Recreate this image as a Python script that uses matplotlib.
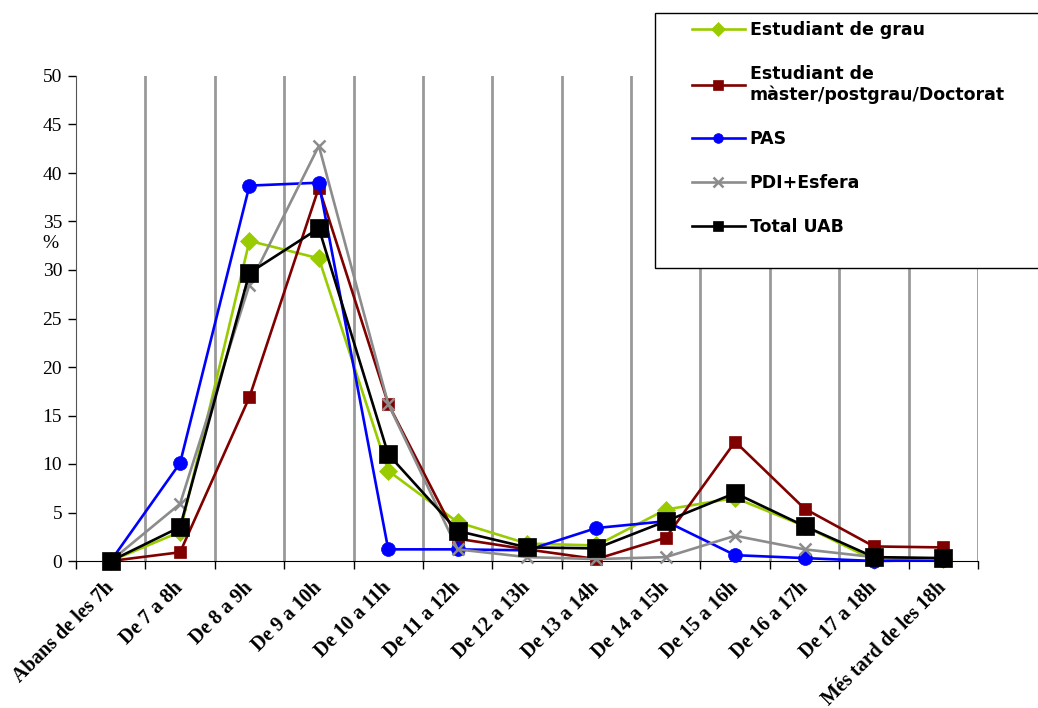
import matplotlib
matplotlib.use("Agg")
from matplotlib import pyplot as plt
from matplotlib.patches import Rectangle
import numpy as np

categories = ["Abans de les 7h", "De 7 a 8h", "De 8 a 9h", "De 9 a 10h", "De 10 a 11h",
              "De 11 a 12h", "De 12 a 13h", "De 13 a 14h", "De 14 a 15h", "De 15 a 16h",
              "De 16 a 17h", "De 17 a 18h", "Més tard de les 18h"]

grau = [0.0, 3.0, 33.0, 31.2, 9.3, 4.0, 1.8, 1.6, 5.3, 6.5, 3.6, 0.1, 0.2]
master = [0.0, 0.9, 16.9, 38.5, 16.2, 2.3, 1.2, 0.2, 2.4, 12.3, 5.4, 1.5, 1.4]
pas = [0.0, 10.1, 38.7, 39.0, 1.2, 1.2, 1.1, 3.4, 4.1, 0.6, 0.3, 0.0, 0.1]
pdi = [0.0, 5.9, 28.5, 42.8, 16.2, 1.2, 0.4, 0.2, 0.4, 2.6, 1.2, 0.4, 0.2]
total = [0.0, 3.5, 29.7, 34.3, 11.0, 3.1, 1.4, 1.3, 4.1, 7.0, 3.6, 0.4, 0.3]

series = [
    ("Estudiant de grau", grau, "#99cc00", "D", 9),
    ("Estudiant de\nmàster/postgrau/Doctorat", master, "#800000", "s", 9),
    ("PAS", pas, "#0000ff", "o", 10),
    ("PDI+Esfera", pdi, "#8c8c8c", "x", 9),
    ("Total UAB", total, "#000000", "s", 13.5),
]

fig = plt.figure(figsize=(10.38, 7.08), dpi=100)
ax = fig.add_axes([76 / 1038, 1 - 561 / 708, 902 / 1038, 485 / 708])

x = np.arange(len(categories))
handles = []
for name, vals, col, mk, ms in series:
    ln, = ax.plot(x, vals, color=col, marker=mk, markersize=ms, linewidth=1.9,
                  markeredgewidth=1.8 if mk == "x" else 0.5, markeredgecolor=col,
                  label=name, clip_on=False, zorder=3)
    handles.append(ln)

ax.set_xlim(-0.5, len(categories) - 0.5)
ax.set_ylim(0, 50)
ax.set_yticks(range(0, 51, 5))

# gridlines between categories, like excel
bounds = np.arange(0.5, len(categories), 1.0)
for b in bounds:
    ax.axvline(b, color="#999999", linewidth=2, zorder=1)
ax.set_xticks(np.arange(-0.5, len(categories), 1.0), minor=True)
ax.tick_params(axis="x", which="minor", length=6, width=1, direction="out")
ax.set_xticks(x)
ax.tick_params(axis="x", which="major", length=0, pad=17)
ax.set_xticklabels(categories, rotation=45, ha="right", va="center",
                   rotation_mode="anchor", fontsize=14.5, fontweight="bold",
                   family="Liberation Serif")
ax.tick_params(axis="y", length=6, width=1, direction="out", pad=4)
for t in ax.get_yticklabels():
    t.set_family("Liberation Serif")
    t.set_fontsize(14)

for s in ["top", "right"]:
    ax.spines[s].set_visible(False)
ax.spines["left"].set_color("#555555")

ax.set_ylabel("%", rotation=0, fontsize=14, family="Liberation Serif",
              va="center", ha="center")
ax.yaxis.set_label_coords(-0.028, 0.655)

# legend box (runs off the right edge as in the original)
fig.patches.append(Rectangle((655 / 1038, 1 - 268 / 708), 0.5, 255 / 708,
                             transform=fig.transFigure, facecolor="white",
                             edgecolor="black", linewidth=1, zorder=5))
leg = fig.legend(handles=handles, loc="upper left",
                 bbox_to_anchor=(676 / 1038, 1 - 5 / 708), frameon=False,
                 prop={"family": "DejaVu Sans", "weight": "bold", "size": 12.5},
                 handlelength=3.05, handletextpad=0.3, labelspacing=1.5)
leg.set_zorder(6)
for h in leg.legend_handles:
    h.set_markersize(7)

fig.savefig("out.png", dpi=100)
